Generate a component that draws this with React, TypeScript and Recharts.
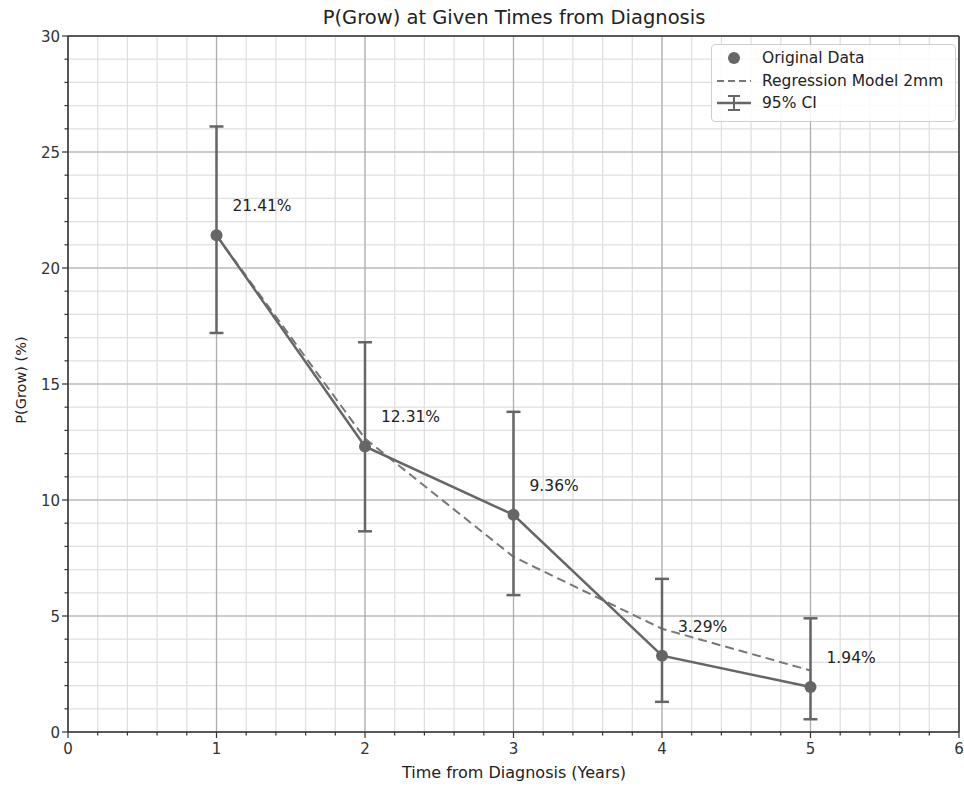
import { LineChart, Line, XAxis, YAxis, CartesianGrid, ReferenceLine, ErrorBar, LabelList } from 'recharts';

// values
const years = [1, 2, 3, 4, 5];
const pGrow = [21.41, 12.31, 9.36, 3.29, 1.94];
const ciLow = [17.2, 8.65, 5.9, 1.3, 0.55];
const ciHigh = [26.1, 16.8, 13.8, 6.6, 4.9];
const regression = [21.4, 12.65, 7.55, 4.45, 2.65];

const xMajor = [0, 1, 2, 3, 4, 5, 6];
const xAll = [
  0, 0.2, 0.4, 0.6, 0.8, 1, 1.2, 1.4, 1.6, 1.8, 2, 2.2, 2.4, 2.6, 2.8, 3,
  3.2, 3.4, 3.6, 3.8, 4, 4.2, 4.4, 4.6, 4.8, 5, 5.2, 5.4, 5.6, 5.8, 6,
];
const yMajor = [0, 5, 10, 15, 20, 25, 30];
const yAll = [
  0, 1, 2, 3, 4, 5, 6, 7, 8, 9, 10, 11, 12, 13, 14, 15, 16, 17, 18, 19, 20,
  21, 22, 23, 24, 25, 26, 27, 28, 29, 30,
];

const data = years.map((year, i) => ({
  year,
  value: pGrow[i],
  model: regression[i],
  err: [pGrow[i] - ciLow[i], ciHigh[i] - pGrow[i]],
  label: `${pGrow[i].toFixed(2)}%`,
}));

const FONT = '"DejaVu Sans", sans-serif';
const INK = '#333';
const LINE = '#666';

const isMajor = (v: number) => Math.abs(v - Math.round(v)) < 1e-6;

function XTick(props: any) {
  const { x, y, payload } = props;
  const major = isMajor(payload.value);
  return (
    <g>
      <line x1={x} y1={y} x2={x} y2={y + (major ? 6 : 3.5)} stroke={INK} strokeWidth={1.2} />
      {major && (
        <text x={x} y={y + 22} textAnchor="middle" fontSize={15} fill={INK} fontFamily={FONT}>
          {payload.value}
        </text>
      )}
    </g>
  );
}

function YTick(props: any) {
  const { x, y, payload } = props;
  const major = payload.value % 5 === 0;
  return (
    <g>
      <line x1={x} y1={y} x2={x - (major ? 6 : 3.5)} y2={y} stroke={INK} strokeWidth={1.2} />
      {major && (
        <text x={x - 8} y={y + 5.5} textAnchor="end" fontSize={15} fill={INK} fontFamily={FONT}>
          {payload.value}
        </text>
      )}
    </g>
  );
}

function PctLabel(props: any) {
  const { x, y, value } = props;
  return (
    <text x={x + 16} y={y - 24} fontSize={15.5} fill="#222" fontFamily={FONT}>
      {value}
    </text>
  );
}

function LegendBox() {
  const row = { display: 'flex', alignItems: 'center', height: 22.5 } as const;
  return (
    <div
      style={{
        position: 'absolute',
        left: 711,
        top: 44,
        width: 245,
        height: 78,
        border: '1px solid #cfcfcf',
        borderRadius: 4,
        background: 'rgba(255,255,255,0.85)',
        padding: '2px 4px',
        fontFamily: FONT,
        fontSize: 15.5,
        color: '#222',
        boxSizing: 'border-box',
      }}
    >
      <div style={row}>
        <svg width={42} height={20}>
          <circle cx={18} cy={10} r={6} fill={LINE} />
        </svg>
        <span style={{ marginLeft: 4 }}>Original Data</span>
      </div>
      <div style={row}>
        <svg width={42} height={20}>
          <line x1={1} y1={10} x2={35} y2={10} stroke="#777" strokeWidth={2} strokeDasharray="7 4" />
        </svg>
        <span style={{ marginLeft: 4 }}>Regression Model 2mm</span>
      </div>
      <div style={row}>
        <svg width={42} height={20}>
          <line x1={1} y1={10} x2={35} y2={10} stroke={LINE} strokeWidth={2.5} />
          <line x1={18} y1={3} x2={18} y2={17} stroke={LINE} strokeWidth={2} />
          <line x1={12} y1={3} x2={24} y2={3} stroke={LINE} strokeWidth={2} />
          <line x1={12} y1={17} x2={24} y2={17} stroke={LINE} strokeWidth={2} />
        </svg>
        <span style={{ marginLeft: 4 }}>95% CI</span>
      </div>
    </div>
  );
}

export default function App() {
  return (
    <div style={{ position: 'fixed', left: 0, top: 0, width: 964, height: 786, background: '#fff', overflow: 'hidden' }}>
      <LineChart width={964} height={786} data={data} margin={{ top: 36, right: 5, bottom: 0, left: 0 }}>
        <CartesianGrid stroke="#e0e0e0" strokeWidth={1.3} />
        {xMajor.map((v) => (
          <ReferenceLine key={`vx${v}`} x={v} stroke="#adadad" strokeWidth={1.2} />
        ))}
        {yMajor.map((v) => (
          <ReferenceLine key={`hy${v}`} y={v} stroke="#adadad" strokeWidth={1.2} />
        ))}
        <XAxis
          dataKey="year"
          type="number"
          domain={[0, 6]}
          ticks={xAll}
          interval={0}
          height={54}
          tickSize={0}
          tickMargin={0}
          tickLine={false}
          tick={<XTick />}
          axisLine={{ stroke: INK, strokeWidth: 1.5 }}
          allowDataOverflow
        />
        <YAxis
          type="number"
          domain={[0, 30]}
          ticks={yAll}
          interval={0}
          width={68}
          tickSize={0}
          tickMargin={0}
          tickLine={false}
          tick={<YTick />}
          axisLine={{ stroke: INK, strokeWidth: 1.5 }}
          allowDataOverflow
        />
        <ReferenceLine y={30} stroke={INK} strokeWidth={1.5} />
        <ReferenceLine x={6} stroke={INK} strokeWidth={1.5} />
        <Line
          dataKey="model"
          stroke="#777"
          strokeWidth={2}
          strokeDasharray="9 5"
          dot={false}
          isAnimationActive={false}
        />
        <Line
          dataKey="value"
          stroke={LINE}
          strokeWidth={2.5}
          dot={{ r: 6, fill: LINE, stroke: LINE, strokeWidth: 0 }}
          activeDot={false}
          isAnimationActive={false}
        >
          <ErrorBar dataKey="err" width={7} stroke={LINE} strokeWidth={2.5} direction="y" isAnimationActive={false} />
          <LabelList dataKey="label" content={<PctLabel />} />
        </Line>
      </LineChart>
      <div
        style={{
          position: 'absolute', top: 6, left: 0, width: 1028, textAlign: 'center',
          fontFamily: FONT, fontSize: 19.5, color: '#222',
        }}
      >
        P(Grow) at Given Times from Diagnosis
      </div>
      <div
        style={{
          position: 'absolute', left: 21, top: 380, transform: 'translate(-50%, -50%) rotate(-90deg)',
          fontFamily: FONT, fontSize: 14.5, color: '#222', whiteSpace: 'nowrap',
        }}
      >
        P(Grow) (%)
      </div>
      <div
        style={{
          position: 'absolute', top: 763, left: 0, width: 1028, textAlign: 'center',
          fontFamily: FONT, fontSize: 16, color: '#222',
        }}
      >
        Time from Diagnosis (Years)
      </div>
      <LegendBox />
    </div>
  );
}
